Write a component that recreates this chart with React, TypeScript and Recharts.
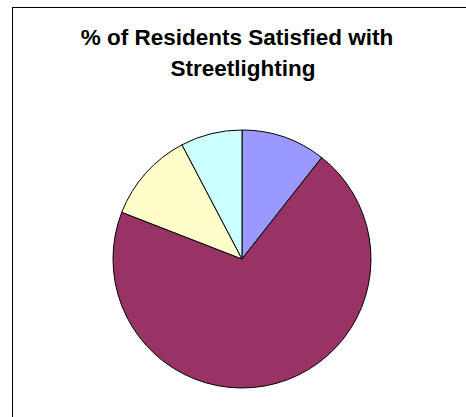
import React from 'react';
import { PieChart, Pie, Cell } from 'recharts';

const categories = ['Very Satisfied', 'Satisfied', 'Dissatisfied', 'Very Dissatisfied'];
const values = [10.6, 70.3, 11.4, 7.7];
const colors = ['#9999FF', '#993366', '#FFFFCC', '#CCFFFF'];
const titleLines = ['% of Residents Satisfied with', 'Streetlighting'];

const data = categories.map((name, i) => ({ name, value: values[i] }));

const titleStyle: React.CSSProperties = {
  position: 'absolute',
  width: 400,
  textAlign: 'center',
  fontWeight: 'bold',
  fontSize: 22.5,
  lineHeight: '26px',
  color: '#000',
  whiteSpace: 'nowrap',
};

const App: React.FC = () => {
  return (
    <div style={{ position: 'absolute', left: 0, top: 0, width: 466, height: 417, overflow: 'hidden', background: '#fff', fontFamily: 'Arial, "Liberation Sans", sans-serif' }}>
      <div style={{ position: 'absolute', left: 12, top: 7, width: 470, height: 430, borderTop: '1px solid #000', borderLeft: '1px solid #000' }} />
      <div style={{ ...titleStyle, left: 37, top: 25 }}>{titleLines[0]}</div>
      <div style={{ ...titleStyle, left: 43, top: 56 }}>{titleLines[1]}</div>
      <div style={{ position: 'absolute', left: 0, top: 0 }}>
        <PieChart width={466} height={417} margin={{ top: 0, right: 0, bottom: 0, left: 0 }}>
          <Pie
            data={data}
            dataKey="value"
            nameKey="name"
            cx={242}
            cy={259}
            outerRadius={129}
            startAngle={90}
            endAngle={-270}
            stroke="#000"
            strokeWidth={1}
            label={false}
            labelLine={false}
            isAnimationActive={false}
          >
            {data.map((entry, index) => (
              <Cell key={`cell-${index}`} fill={colors[index]} />
            ))}
          </Pie>
        </PieChart>
      </div>
    </div>
  );
};

export default App;
